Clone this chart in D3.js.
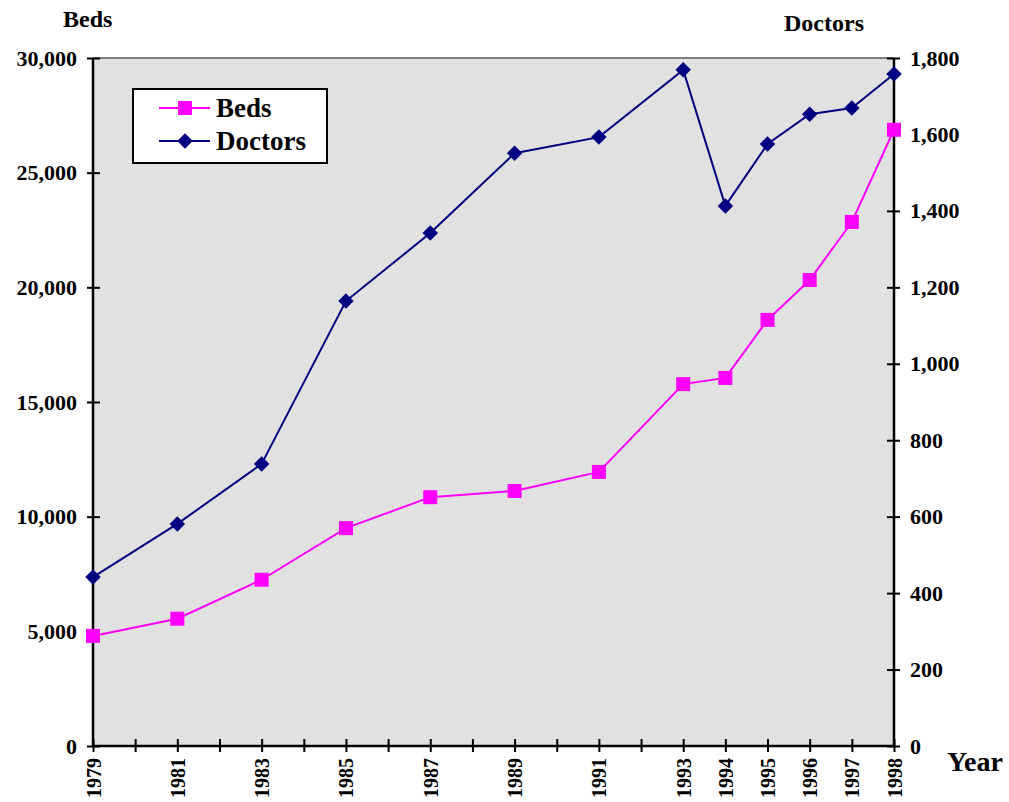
<!DOCTYPE html>
<html>
<head>
<meta charset="utf-8">
<script src="https://cdn.jsdelivr.net/npm/d3@7"></script>
<style>
  body { margin: 0; background: #fff; }
  text { font-family: "Liberation Serif", "Times New Roman", serif; font-weight: bold; fill: #000; }
</style>
</head>
<body>
<div id="chart"></div>
<script>
const years = [1979, 1981, 1983, 1985, 1987, 1989, 1991, 1993, 1994, 1995, 1996, 1997, 1998];
const beds = [4800, 5550, 7250, 9500, 10850, 11120, 11950, 15780, 16050, 18580, 20320, 22850, 26870];
const doctors = [442, 581, 738, 1164, 1342, 1551, 1593, 1769, 1413, 1575, 1653, 1669, 1758];
const bedTicks = [0, 5000, 10000, 15000, 20000, 25000, 30000];
const doctorTicks = [0, 200, 400, 600, 800, 1000, 1200, 1400, 1600, 1800];

const width = 1009, height = 802;
const m = { left: 93, right: 1009 - 894, top: 58, bottom: 802 - 746 };

const svg = d3.select('#chart').append('svg')
  .attr('width', width).attr('height', height);

const x = d3.scaleLinear().domain([1979, 1998]).range([m.left, width - m.right]);
const yL = d3.scaleLinear().domain([0, 30000]).range([height - m.bottom, m.top]);
const yR = d3.scaleLinear().domain([0, 1800]).range([height - m.bottom, m.top]);

// plot background
svg.append('rect')
  .attr('x', m.left).attr('y', m.top)
  .attr('width', x.range()[1] - m.left).attr('height', height - m.bottom - m.top)
  .attr('fill', '#e1e1e1');

svg.append('line')
  .attr('x1', m.left).attr('x2', x.range()[1])
  .attr('y1', m.top).attr('y2', m.top)
  .attr('stroke', '#808080').attr('stroke-width', 2);

const fmt = d3.format(',');

// left axis
const gL = svg.append('g').attr('transform', `translate(${m.left},0)`)
  .call(d3.axisLeft(yL).tickValues(bedTicks).tickFormat(fmt).tickSize(6).tickPadding(10));
gL.selectAll('.tick line').attr('x2', 7).attr('x1', -6);

// right axis
const gR = svg.append('g').attr('transform', `translate(${x.range()[1]},0)`)
  .call(d3.axisRight(yR).tickValues(doctorTicks).tickFormat(fmt).tickSize(6).tickPadding(10));
gR.selectAll('.tick line').attr('x1', -7).attr('x2', 6);

// bottom axis
const allYears = d3.range(1979, 1999);
const gB = svg.append('g').attr('transform', `translate(0,${height - m.bottom})`)
  .call(d3.axisBottom(x).tickValues(allYears).tickFormat(d => years.includes(d) ? d : '').tickSize(6));
gB.selectAll('.tick line').attr('y1', -7).attr('y2', 6);
gB.selectAll('.tick text')
  .attr('transform', 'rotate(-90)')
  .attr('x', -12).attr('y', 0).attr('dy', '0.35em')
  .style('text-anchor', 'end');

[gL, gR, gB].forEach(g => {
  g.select('.domain').attr('stroke', '#000').attr('stroke-width', 2.5);
  g.selectAll('.tick line').attr('stroke', '#000').attr('stroke-width', 2);
  g.selectAll('.tick text').style('font-size', '22px')
    .style('font-family', '"Liberation Serif", serif').style('font-weight', 'bold');
});
gB.selectAll('.tick text').style('font-size', '20px');
gL.select('.domain').attr('d', `M0,${m.top}V${height - m.bottom}`);
gR.select('.domain').attr('d', `M0,${m.top}V${height - m.bottom}`);
gB.select('.domain').attr('d', `M${m.left},0H${x.range()[1]}`);

// titles
svg.append('text').attr('x', 63).attr('y', 27).style('font-size', '24px').text('Beds');
svg.append('text').attr('x', 784).attr('y', 31).style('font-size', '24px').text('Doctors');
svg.append('text').attr('x', 947).attr('y', 771).style('font-size', '28px').text('Year');

// lines
const bedLine = d3.line().x((d, i) => x(years[i])).y(d => yL(d));
const docLine = d3.line().x((d, i) => x(years[i])).y(d => yR(d));

svg.append('path').datum(doctors).attr('d', docLine)
  .attr('fill', 'none').attr('stroke', '#000080').attr('stroke-width', 2);
svg.append('path').datum(beds).attr('d', bedLine)
  .attr('fill', 'none').attr('stroke', '#ff00ff').attr('stroke-width', 2);

svg.selectAll('.doc').data(doctors).enter().append('path')
  .attr('class', 'doc')
  .attr('d', d3.symbol(d3.symbolSquare, 120)())
  .attr('transform', (d, i) => `translate(${x(years[i])},${yR(d)}) rotate(45)`)
  .attr('fill', '#000080');

svg.selectAll('.bed').data(beds).enter().append('rect')
  .attr('class', 'bed')
  .attr('x', (d, i) => x(years[i]) - 7).attr('y', d => yL(d) - 7)
  .attr('width', 14).attr('height', 14)
  .attr('fill', '#ff00ff');

// legend
const lg = svg.append('g');
lg.append('rect').attr('x', 133).attr('y', 89).attr('width', 194).attr('height', 74)
  .attr('fill', '#fff').attr('stroke', '#000').attr('stroke-width', 2);
const items = [
  { name: 'Beds', color: '#ff00ff', y: 108, shape: 'square' },
  { name: 'Doctors', color: '#000080', y: 141, shape: 'diamond' }
];
items.forEach(it => {
  lg.append('line').attr('x1', 159).attr('x2', 210).attr('y1', it.y).attr('y2', it.y)
    .attr('stroke', it.color).attr('stroke-width', 2);
  if (it.shape === 'square') {
    lg.append('rect').attr('x', 178).attr('y', it.y - 7).attr('width', 14).attr('height', 14).attr('fill', it.color);
  } else {
    lg.append('path').attr('d', d3.symbol(d3.symbolSquare, 120)())
      .attr('transform', `translate(185,${it.y}) rotate(45)`).attr('fill', it.color);
  }
  lg.append('text').attr('x', 216).attr('y', it.y + 9).style('font-size', '27px').text(it.name);
});
</script>
</body>
</html>
